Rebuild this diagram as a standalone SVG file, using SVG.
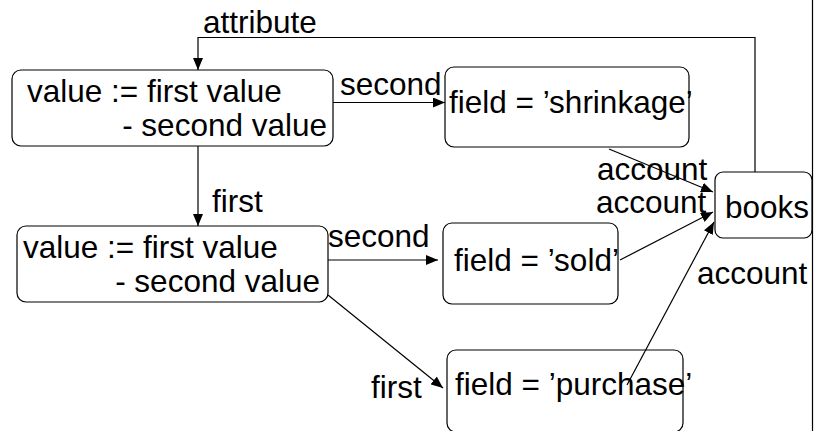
<svg xmlns="http://www.w3.org/2000/svg" width="815" height="431" viewBox="0 0 815 431">
<style>
text { font-family: "Liberation Sans", Arial, sans-serif; font-size: 31.5px; fill: #000; }
.box { fill: #fff; stroke: #000; stroke-width: 1.2; }
.edge { fill: none; stroke: #000; stroke-width: 1.2; }
</style>
<defs>
<marker id="arr" viewBox="0 0 12 10" refX="12" refY="5" markerWidth="12" markerHeight="10" markerUnits="userSpaceOnUse" orient="auto">
<path d="M0,0 L12,5 L0,10 Z" fill="#000"/>
</marker>
</defs>
<line x1="812.5" y1="0" x2="812.5" y2="431" class="edge"/>
<g id="nodeA">
<rect class="box" x="12" y="70" width="321" height="76" rx="9"/>
<text x="27" y="102">value := first value</text>
<text x="327" y="136" text-anchor="end">- second value</text>
</g>
<g id="nodeB">
<rect class="box" x="17" y="226" width="311" height="76" rx="9"/>
<text x="23" y="258">value := first value</text>
<text x="320" y="292" text-anchor="end">- second value</text>
</g>
<g id="shrinkage">
<rect class="box" x="445" y="67" width="244" height="80" rx="9"/>
<text x="449" y="113">field = ’shrinkage’</text>
</g>
<g id="sold">
<rect class="box" x="443" y="223" width="175" height="81" rx="9"/>
<text x="454" y="271">field = ’sold’</text>
</g>
<g id="purchase">
<rect class="box" x="447" y="350" width="236" height="82" rx="9"/>
<text x="455" y="395">field = ’purchase’</text>
</g>
<g id="books">
<rect class="box" x="715" y="172" width="97" height="66" rx="8"/>
<text x="725" y="218">books</text>
</g>
<g id="connectors">
<polyline class="edge" points="755,172 755,37.5 198,37.5 198,70" marker-end="url(#arr)"/>
<line class="edge" x1="333" y1="102.5" x2="445" y2="102.5" marker-end="url(#arr)"/>
<line class="edge" x1="198" y1="146" x2="198" y2="226" marker-end="url(#arr)"/>
<line class="edge" x1="328" y1="260" x2="438" y2="260" marker-end="url(#arr)"/>
<line class="edge" x1="328" y1="295" x2="443" y2="388" marker-end="url(#arr)"/>
<line class="edge" x1="609" y1="149" x2="713" y2="192" marker-end="url(#arr)"/>
<line class="edge" x1="620" y1="260" x2="713" y2="212" marker-end="url(#arr)"/>
<line class="edge" x1="627" y1="385" x2="714" y2="222" marker-end="url(#arr)"/>
<text x="203" y="33">attribute</text>
<text x="340" y="95">second</text>
<text x="212" y="212">first</text>
<text x="328" y="247">second</text>
<text x="371" y="398">first</text>
<text x="597" y="180">account</text>
<text x="596" y="213">account</text>
<text x="697" y="284">account</text>
</g>
</svg>
